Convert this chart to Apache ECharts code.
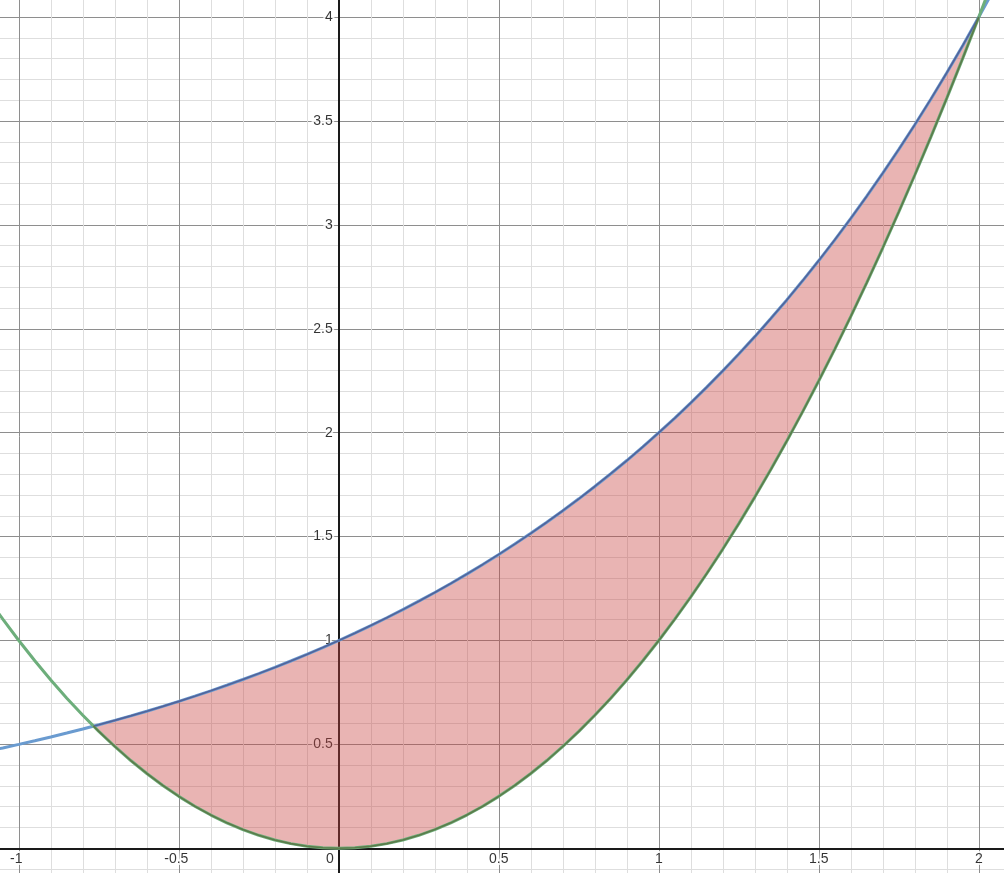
<!DOCTYPE html>
<html>
<head>
<meta charset="utf-8">
<script src="https://cdn.jsdelivr.net/npm/echarts@6/dist/echarts.min.js"></script>
<style>
html,body{margin:0;padding:0;background:#fff;}
#chart{width:1004px;height:873px;}
</style>
</head>
<body>
<div id="chart"></div>
<script>
// sample x positions
var xs = [-1.1,-1.05,-1.0,-0.95,-0.9,-0.85,-0.8,-0.75,-0.7,-0.65,-0.6,-0.55,-0.5,-0.45,-0.4,-0.35,-0.3,-0.25,-0.2,-0.15,-0.1,-0.05,
  0,0.05,0.1,0.15,0.2,0.25,0.3,0.35,0.4,0.45,0.5,0.55,0.6,0.65,0.7,0.75,0.8,0.85,0.9,0.95,
  1.0,1.05,1.1,1.15,1.2,1.25,1.3,1.35,1.4,1.45,1.5,1.55,1.6,1.65,1.7,1.75,1.8,1.85,1.9,1.95,2.0,2.05,2.1];
// blue curve (y = 2^x) values
var blueY = [0.4665,0.4830,0.5,0.5176,0.5359,0.5548,0.5743,0.5946,0.6156,0.6373,0.6598,0.6830,0.7071,0.7320,0.7579,0.7846,0.8123,0.8409,0.8706,0.9013,0.9330,0.9659,
  1,1.0353,1.0718,1.1096,1.1487,1.1892,1.2311,1.2746,1.3195,1.3660,1.4142,1.4641,1.5157,1.5692,1.6245,1.6818,1.7411,1.8025,1.8661,1.9319,
  2,2.0705,2.1435,2.2191,2.2974,2.3784,2.4623,2.5491,2.6390,2.7321,2.8284,2.9282,3.0314,3.1383,3.2490,3.3636,3.4822,3.6050,3.7321,3.8637,4,4.1411,4.2871];
// green curve (y = x^2) values
var greenY = [1.21,1.1025,1,0.9025,0.81,0.7225,0.64,0.5625,0.49,0.4225,0.36,0.3025,0.25,0.2025,0.16,0.1225,0.09,0.0625,0.04,0.0225,0.01,0.0025,
  0,0.0025,0.01,0.0225,0.04,0.0625,0.09,0.1225,0.16,0.2025,0.25,0.3025,0.36,0.4225,0.49,0.5625,0.64,0.7225,0.81,0.9025,
  1,1.1025,1.21,1.3225,1.44,1.5625,1.69,1.8225,1.96,2.1025,2.25,2.4025,2.56,2.7225,2.89,3.0625,3.24,3.4225,3.61,3.8025,4,4.2025,4.41];
// shaded region bounds (intersection points)
var regionStart = [-0.7667, 0.5878];
var regionEnd = [2, 4];
// tick labels shown next to the axes
var xTickLabels = ['-1', '-0.5', '0', '0.5', '1', '1.5', '2'];
var yTickLabels = ['0.5', '1', '1.5', '2', '2.5', '3', '3.5', '4'];

var bluePts = xs.map(function(x,i){return [x, blueY[i]];});
var greenPts = xs.map(function(x,i){return [x, greenY[i]];});
function inRegion(p){ return p[0] > regionStart[0] && p[0] <= regionEnd[0] + 1e-9; }
var upperPts = [regionStart].concat(bluePts.filter(inRegion));
var lowerPts = [regionStart].concat(greenPts.filter(inRegion));
var polyPts = upperPts.concat(lowerPts.slice(1).reverse());

var FONT = 'Liberation Sans, Arial, sans-serif';
var labelBase = {fontSize:14, fontFamily:FONT, color:'#000', textBorderColor:'#fff', textBorderWidth:4};

var xLabelData = xTickLabels.map(function(t){
  var v = parseFloat(t);
  var off = v === 0 ? [-9, 0] : (v < 0 ? [-2.5, 0] : [0, 0]);
  return {value:[v, 0], name:t, label:{offset:off}};
});
var yLabelData = yTickLabels.map(function(t){
  return {value:[0, parseFloat(t)], name:t};
});

var chart = echarts.init(document.getElementById('chart'));
chart.setOption({
  animation:false,
  backgroundColor:'#fff',
  grid:{left:-141.2, top:-86.8, width:1280, height:1039, containLabel:false, outerBoundsMode:'none'},
  xAxis:{
    type:'value', min:-1.5, max:2.5, interval:0.5,
    axisLine:{show:true, onZero:true, lineStyle:{color:'#1a1a1a', width:2}},
    axisTick:{show:false},
    axisLabel:{show:false},
    splitLine:{show:true, lineStyle:{color:'#8e8e8e', width:1}},
    minorTick:{show:false, splitNumber:5},
    minorSplitLine:{show:true, lineStyle:{color:'#dedede', width:1}}
  },
  yAxis:{
    type:'value', min:-0.5, max:4.5, interval:0.5,
    axisLine:{show:true, onZero:true, lineStyle:{color:'#1a1a1a', width:2}},
    axisTick:{show:false},
    axisLabel:{show:false},
    splitLine:{show:true, lineStyle:{color:'#8e8e8e', width:1}},
    minorTick:{show:false, splitNumber:5},
    minorSplitLine:{show:true, lineStyle:{color:'#dedede', width:1}}
  },
  series:[
    {
      type:'scatter', z:1, silent:true, symbolSize:0,
      itemStyle:{color:'rgba(0,0,0,0)'},
      data:xLabelData,
      label:Object.assign({show:true, position:'bottom', distance:4, formatter:'{b}'}, labelBase)
    },
    {
      type:'scatter', z:1, silent:true, symbolSize:0,
      itemStyle:{color:'rgba(0,0,0,0)'},
      data:yLabelData,
      label:Object.assign({show:true, position:'left', distance:6, formatter:'{b}'}, labelBase)
    },
    {
      type:'custom', z:2, silent:true,
      data:[[0,0]],
      renderItem:function(params, api){
        var pts = polyPts.map(function(p){ return api.coord(p); });
        return {type:'polygon', shape:{points:pts}, style:{fill:'rgba(199,68,64,0.4)', stroke:null}};
      }
    },
    {
      type:'line', z:3, data:bluePts, showSymbol:false, smooth:false, silent:true,
      lineStyle:{color:'#6a9bd0', width:3}
    },
    {
      type:'line', z:3, data:greenPts, showSymbol:false, smooth:false, silent:true,
      lineStyle:{color:'#6dae7b', width:3}
    },
    {
      type:'line', z:4, data:upperPts, showSymbol:false, smooth:false, silent:true,
      lineStyle:{color:'#52639a', width:1.6}
    },
    {
      type:'line', z:4, data:lowerPts, showSymbol:false, smooth:false, silent:true,
      lineStyle:{color:'#5c7b4a', width:1.6}
    }
  ]
});
</script>
</body>
</html>
